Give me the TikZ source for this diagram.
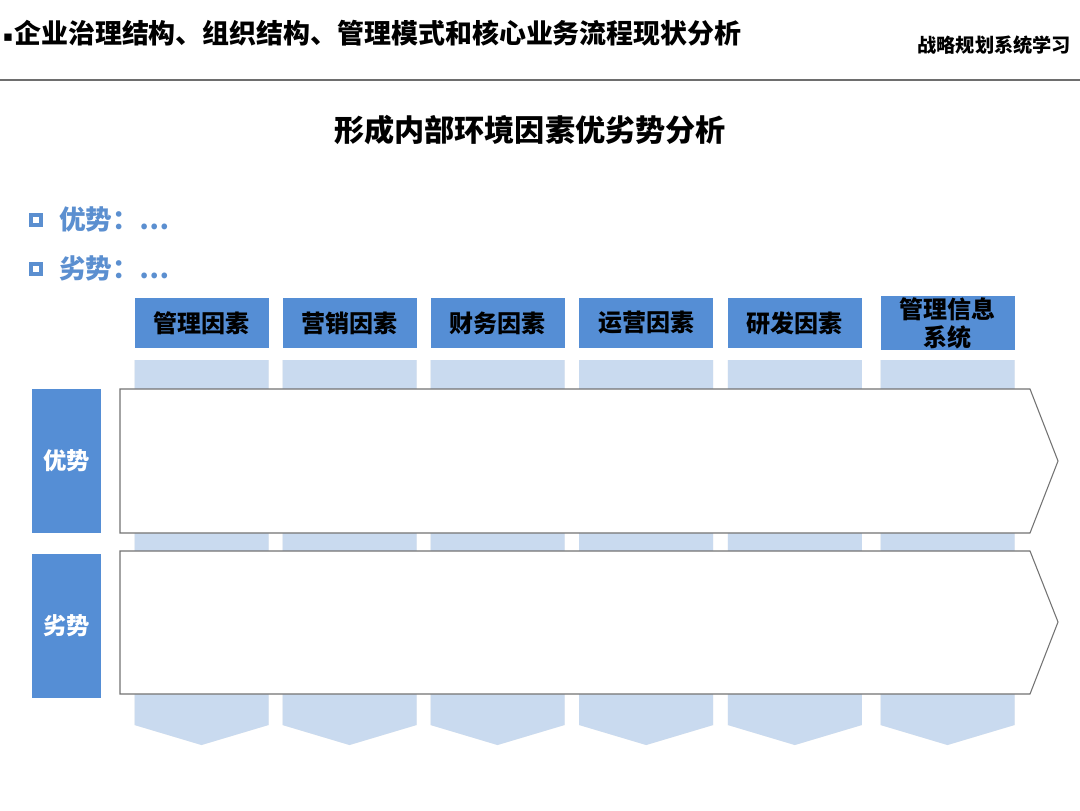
\documentclass[tikz,border=0pt]{standalone}
\usepackage{fontspec}
\setmainfont{Noto Sans CJK SC}
\newfontfamily\symfont{DejaVu Sans}
\usetikzlibrary{positioning}
\definecolor{hdrblue}{HTML}{558ED5}
\definecolor{lightcol}{HTML}{C9DAEF}
\definecolor{bulletblue}{HTML}{5B8FD0}
\definecolor{rulegray}{HTML}{6E6E6E}

\begin{document}
\begin{tikzpicture}[
  x=0.75pt, y=-0.75pt,
  every node/.style={inner sep=0pt, outer sep=0pt},
  header/.style={
    fill=hdrblue, minimum width=100.5pt, minimum height=37.5pt,
    align=center, font=\fontsize{18}{20}\selectfont\bfseries
  },
  side/.style={
    fill=hdrblue, minimum width=52pt, minimum height=108pt,
    text=white, font=\fontsize{17.5}{19}\selectfont\bfseries
  },
  chev/.style={fill=lightcol},
  chevshadow/.style={fill=black!6},
  band/.style={fill=white, draw=black!55, line width=0.8pt},
  tick/.style={draw=bulletblue, line width=2.3pt, minimum size=7.5pt},
  bullet/.style={anchor=west, text=bulletblue, font=\fontsize{20}{24}\selectfont\bfseries}
]
  \useasboundingbox[fill=white] (0,0) rectangle (1080,810);

  % page header
  \node[anchor=west, font=\fontsize{20.2}{24}\selectfont\bfseries] (title) at (3,33)
    {\raisebox{1.2pt}{\symfont\fontsize{11}{11}\selectfont ▪}\kern1pt 企业治理结构、组织结构、管理模式和核心业务流程现状分析};
  \node[anchor=east, font=\fontsize{14.4}{16}\selectfont\bfseries] (series) at (1071,45) {战略规划系统学习};
  \coordinate (ruleL) at (0,80);
  \coordinate (ruleR) at (1080,80);
  \draw[rulegray, line width=1.5pt] (ruleL) -- (ruleR);

  \node[font=\fontsize{22.6}{26}\selectfont\bfseries] (subtitle) at (530,130) {形成内部环境因素优劣势分析};

  % bullets
  \node[tick] (t1) at (36,220) {};
  \node[bullet] (good) at (59,219) {优势：…};
  \node[tick] (t2) at (36,269) {};
  \node[bullet] (bad) at (59,268) {劣势：…};

  % column headers
  \node[header] (h1) at (201.5,323) {管理因素};
  \node[header, right=10.5pt of h1] (h2) {营销因素};
  \node[header, right=10.5pt of h2] (h3) {财务因素};
  \node[header, right=11pt of h3] (h4) {运营因素};
  \node[header, right=11pt of h4] (h5) {研发因素};
  \node[header, right=14pt of h5, minimum height=40.5pt,
        font=\fontsize{18}{21}\selectfont\bfseries] (h6) {管理信息\\系统};

  % chevron columns
  \coordinate (ctop) at (0,360);
  \coordinate (cside) at (0,725);
  \coordinate (ctip) at (0,745);
  \foreach \h in {h1,h2,h3,h4,h5,h6}{
    \fill[chevshadow, xshift=1.5pt, yshift=-1.5pt]
      (\h.west |- ctop) -- (\h.east |- ctop) -- (\h.east |- cside)
      -- (\h.south |- ctip) -- (\h.west |- cside) -- cycle;
    \fill[chev]
      (\h.west |- ctop) -- (\h.east |- ctop) -- (\h.east |- cside)
      -- (\h.south |- ctip) -- (\h.west |- cside) -- cycle;
  }

  % strength / weakness bands
  \draw[band] (120,389) -- (1030,389) -- (1058,461) -- (1030,533) -- (120,533) -- cycle;
  \draw[band] (120,551) -- (1030,551) -- (1058,622) -- (1030,694) -- (120,694) -- cycle;

  \node[side] (strong) at (66.5,461) {优势};
  \node[side] (weak) at (66.5,625.5) {劣势};
\end{tikzpicture}
\end{document}
